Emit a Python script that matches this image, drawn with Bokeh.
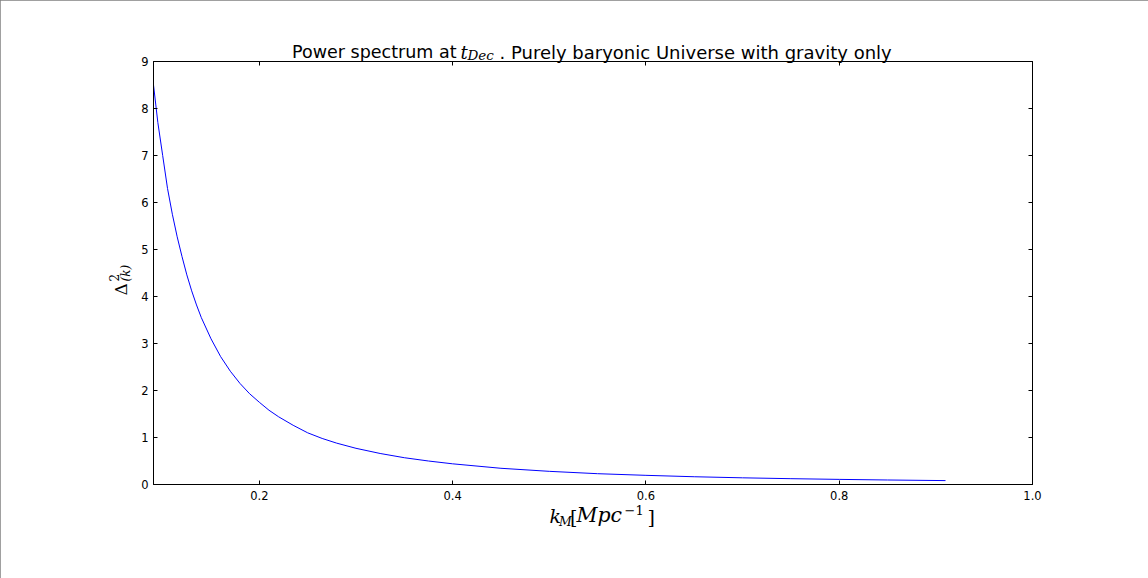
import math
from bokeh.plotting import figure
from bokeh.models import Range1d, FixedTicker, LinearAxis, Label
from bokeh.embed import file_html
from bokeh.resources import INLINE

# ---- data ----
k_values = [0.0905, 0.095, 0.10, 0.105, 0.11, 0.115, 0.12, 0.125, 0.13, 0.135, 0.14, 0.15,
            0.16, 0.17, 0.18, 0.19, 0.20, 0.21, 0.22, 0.235, 0.25, 0.265, 0.28, 0.30, 0.325, 0.35,
            0.375, 0.40, 0.45, 0.50, 0.55, 0.60, 0.65, 0.70, 0.75, 0.80, 0.85, 0.91]
delta2_values = [8.5, 7.7, 7.0, 6.3, 5.75, 5.27, 4.85, 4.46, 4.12, 3.82, 3.55, 3.10,
                 2.72, 2.41, 2.15, 1.93, 1.75, 1.58, 1.44, 1.26, 1.10, 0.98, 0.88, 0.77, 0.66, 0.57,
                 0.50, 0.44, 0.345, 0.28, 0.23, 0.195, 0.165, 0.142, 0.124, 0.109, 0.096, 0.083]
x_ticks = [0.2, 0.4, 0.6, 0.8, 1.0]
x_tick_labels = ["0.2", "0.4", "0.6", "0.8", "1.0"]
y_ticks = [0, 1, 2, 3, 4, 5, 6, 7, 8, 9]
y_tick_labels = ["0", "1", "2", "3", "4", "5", "6", "7", "8", "9"]

W, H = 1148, 578
p = figure(width=W, height=H, x_range=Range1d(0.0905, 1.0), y_range=Range1d(0, 9),
           output_backend="svg", toolbar_location=None, title=None,
           min_border_left=153, min_border_right=116, min_border_top=61, min_border_bottom=94)
p.background_fill_color = "white"
p.border_fill_color = "white"
p.outline_line_color = "black"
p.outline_line_width = 1
p.xgrid.visible = False
p.ygrid.visible = False
p.styles = {"outline": "1px solid #808080", "outline-offset": "-1px"}

TICK_FONT = "DejaVu Sans"
TICK_SIZE = "11.5px"

def style_axis(ax, ticks, labels, show_labels, standoff):
    ax.ticker = FixedTicker(ticks=ticks)
    ax.major_label_overrides = {t: l for t, l in zip(ticks, labels)}
    ax.major_tick_in = 4
    ax.major_tick_out = 0
    ax.minor_tick_in = 0
    ax.minor_tick_out = 0
    ax.axis_line_color = "black"
    ax.major_tick_line_color = "black"
    ax.major_label_text_font = TICK_FONT
    ax.major_label_text_font_size = TICK_SIZE if show_labels else "1px"
    ax.major_label_text_color = "black" if show_labels else None
    ax.major_label_standoff = standoff

style_axis(p.xaxis[0], x_ticks, x_tick_labels, True, 6)
style_axis(p.yaxis[0], y_ticks, y_tick_labels, True, 5)
top_ax = LinearAxis()
style_axis(top_ax, x_ticks, x_tick_labels, False, 0)
right_ax = LinearAxis()
style_axis(right_ax, y_ticks, y_tick_labels, False, 0)
p.add_layout(top_ax, "above")
p.add_layout(right_ax, "right")

p.line(k_values, delta2_values, line_color="#0000ff", line_width=1)

# Text pieces are positioned in canvas pixels; each is parked in a side panel
# that has spare room so that the frame keeps its place.
def lab(txt, x, y, size, place, font="DejaVu Sans", style="normal", align="left", angle=0.0):
    p.add_layout(Label(x=x, y=y, x_units="canvas", y_units="canvas", text=txt,
                       text_font=font, text_font_size=f"{size}px", text_font_style=style,
                       text_align=align, text_baseline="alphabetic", angle=angle,
                       text_color="black"), place)

SERIF = "DejaVu Serif"
# title
lab("Power spectrum at", 456, 51.5, 17.5, "above", align="right")
lab("t", 460, 51.5, 18, "right", font=SERIF, style="italic")
lab("Dec", 467, 54.5, 13.5, "right", font=SERIF, style="italic")
lab(". Purely baryonic Universe with gravity only", 499, 51.5, 18, "above")

# x axis label  k_M [Mpc^-1]
lab("k", 549, 515, 19, "below", font=SERIF, style="italic")
lab("M", 558.5, 520.5, 12.5, "right", font=SERIF, style="italic")
lab("[", 569.5, 516, 19, "left", font=SERIF)
lab("Mpc", 576, 514.5, 20.5, "below", font=SERIF, style="italic")
lab("\u22121", 624, 509, 13, "right", font=SERIF)
lab("]", 647, 516, 19, "left", font=SERIF)

# y axis label  Delta^2_(k), rotated
rot = math.pi / 2
lab("\u0394", 120.5, 295, 17, "left", font=SERIF, angle=rot)
lab("2", 113.5, 281, 12, "left", font=SERIF, angle=rot)
lab("(k)", 125.5, 281, 12, "left", font=SERIF, style="italic", angle=rot)

open("out.html", "w").write(file_html(p, INLINE))
